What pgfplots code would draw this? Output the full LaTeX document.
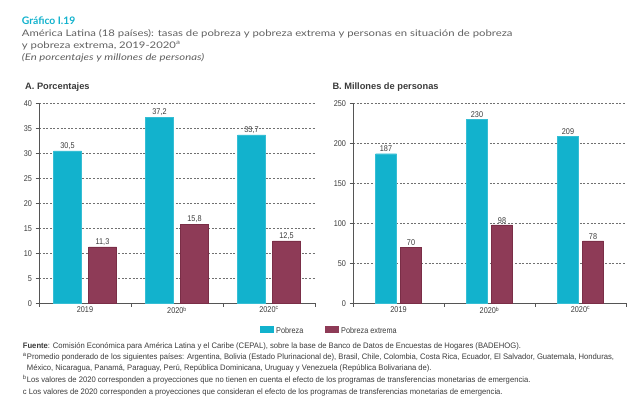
\documentclass[border=0pt]{standalone}
\usepackage{pgfplots}
\pgfplotsset{compat=1.18}
\usepackage{fontspec}
\setmainfont{Liberation Sans}
\newfontfamily\condfont{Liberation Sans}[FakeStretch=0.87]
\newfontfamily\notefont{Liberation Sans}[FakeStretch=0.96]
\newfontfamily\titlefont{Lato}[FakeStretch=1.25]
\newfontfamily\headfont{Lato}
\definecolor{cyanbar}{HTML}{12B2CD}
\definecolor{maroonbar}{HTML}{8E3B57}
\definecolor{maroonedge}{HTML}{7A2E47}
\definecolor{txt}{HTML}{3A3A3A}
\definecolor{titletxt}{HTML}{606060}
\definecolor{gridc}{HTML}{707070}
\definecolor{axisc}{HTML}{555555}

\pgfplotsset{
  panel/.style={
    scale only axis, anchor=south west,
    height=200bp,
    xmin=-0.5, xmax=2.5, ymin=0,
    axis x line=bottom, axis y line=left,
    axis line style={-, draw=axisc, line width=0.9pt},
    ymajorgrids,
    grid style={gridc, line width=0.6pt, dash pattern=on 2bp off 1.6bp},
    ytick style={draw=axisc, line width=0.6pt},
    tick align=outside, major tick length=3.5bp,
    xtick={-0.5,0.5,1.5,2.5}, xticklabels={},
    xtick style={draw=axisc, line width=0.6pt},
    extra x ticks={0,1,2},
    extra x tick labels={2019,2020\textsuperscript{b},2020\textsuperscript{c}},
    extra x tick style={major tick length=0pt, grid=none},
    tick label style={font=\condfont\fontsize{8.4}{9}\selectfont, text=txt},
    /pgf/number format/assume math mode=true,
    ybar,
    nodes near coords style={font=\condfont\fontsize{8.4}{9}\selectfont, text=txt, inner sep=1.5bp},
    clip=false,
  },
}

\begin{document}
\begin{tikzpicture}
\path[use as bounding box] (0,0) rectangle (640bp,-403bp);

% Titles
\node[anchor=base west, inner sep=0, text=cyanbar] at (21.7bp,-24bp) {\headfont\bfseries\fontsize{10.4}{11}\selectfont Gráfico I.19};
\node[anchor=base west, inner sep=0, text=titletxt] at (21.7bp,-36.7bp) {\titlefont\fontsize{9.1}{10}\selectfont América Latina (18 países): tasas de pobreza y pobreza extrema y personas en situación de pobreza};
\node[anchor=base west, inner sep=0, text=titletxt] at (21.7bp,-48.5bp) {\titlefont\fontsize{9.1}{10}\selectfont y pobreza extrema, 2019-2020\textsuperscript{a}};
\node[anchor=base west, inner sep=0, text=titletxt] at (21.7bp,-60bp) {\titlefont\itshape\fontsize{9.1}{10}\selectfont (En porcentajes y millones de personas)};

% Panel titles
\node[anchor=base west, inner sep=0, text=txt] at (25bp,-89bp) {\bfseries\fontsize{9.3}{11}\selectfont A. Porcentajes};
\node[anchor=base west, inner sep=0, text=txt] at (332.3bp,-89bp) {\bfseries\fontsize{9.3}{11}\selectfont B. Millones de personas};

% Panel A
\begin{axis}[panel, at={(39bp,-303.3bp)}, width=276bp, ymax=40, ytick distance=5,
  nodes near coords={\pgfmathprintnumber[fixed, fixed zerofill, precision=1, use comma]{\pgfplotspointmeta}}]
\addplot[fill=cyanbar, draw=cyanbar!85!white, bar width=28bp, bar shift=-17.5bp]
  coordinates {(0,30.5) (1,37.2) (2,33.7)};
\addplot[fill=maroonbar, draw=maroonedge, bar width=28bp, bar shift=17.5bp]
  coordinates {(0,11.3) (1,15.8) (2,12.5)};
\end{axis}

% Panel B
\begin{axis}[panel, at={(353bp,-303.3bp)}, width=273bp, ymax=250, ytick distance=50,
  nodes near coords={\pgfmathprintnumber[fixed, precision=0]{\pgfplotspointmeta}}]
\addplot[fill=cyanbar, draw=cyanbar!85!white, bar width=21bp, bar shift=-12.5bp]
  coordinates {(0,187) (1,230) (2,209)};
\addplot[fill=maroonbar, draw=maroonedge, bar width=21bp, bar shift=12.5bp]
  coordinates {(0,70) (1,98) (2,78)};
\end{axis}

% Legend
\fill[cyanbar] (260bp,-326bp) rectangle (274bp,-333bp);
\node[anchor=base west, inner sep=0, text=txt] at (276bp,-333bp) {\condfont\fontsize{8.4}{9}\selectfont Pobreza};
\fill[maroonbar] (325bp,-326bp) rectangle (339bp,-333bp);
\node[anchor=base west, inner sep=0, text=txt] at (341bp,-333bp) {\condfont\fontsize{8.4}{9}\selectfont Pobreza extrema};

% Footnotes
\begin{scope}[every node/.style={anchor=base west, inner sep=0, text=txt, font=\notefont\fontsize{8}{9}\selectfont}]
\node at (22.7bp,-348.5bp) {\textbf{Fuente}: Comisión Económica para América Latina y el Caribe (CEPAL), sobre la base de Banco de Datos de Encuestas de Hogares (BADEHOG).};
\node at (22.7bp,-359.7bp) {\textsuperscript{a}};
\node at (26.7bp,-359.7bp) {Promedio ponderado de los siguientes países: Argentina, Bolivia (Estado Plurinacional de), Brasil, Chile, Colombia, Costa Rica, Ecuador, El Salvador, Guatemala, Honduras,};
\node at (26.7bp,-370.9bp) {México, Nicaragua, Panamá, Paraguay, Perú, República Dominicana, Uruguay y Venezuela (República Bolivariana de).};
\node at (22.7bp,-382.4bp) {\textsuperscript{b}};
\node at (26.7bp,-382.4bp) {Los valores de 2020 corresponden a proyecciones que no tienen en cuenta el efecto de los programas de transferencias monetarias de emergencia.};
\node at (22.7bp,-394.3bp) {c Los valores de 2020 corresponden a proyecciones que consideran el efecto de los programas de transferencias monetarias de emergencia.};
\end{scope}
\end{tikzpicture}
\end{document}
